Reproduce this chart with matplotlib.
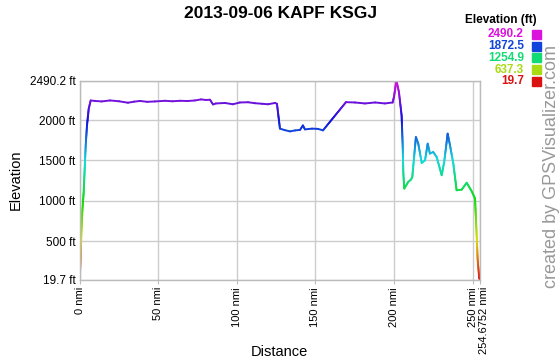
import matplotlib
matplotlib.use('Agg')
import matplotlib.pyplot as plt
import matplotlib.colors as colors
import matplotlib.transforms as mtransforms
import numpy as np
from matplotlib.collections import LineCollection

plt.rcParams['font.family'] = ['Liberation Sans', 'DejaVu Sans']

#---- data ----#
dist_nmi = [0.0, 0.64, 1.02, 1.65, 2.54, 3.18, 3.82, 4.64, 5.73, 7.0,
            9.7, 14.0, 19.3, 25.0, 30.7, 34.5, 38.4, 43.0, 47.9, 54.3,
            59.0, 63.8, 68.5, 73.3, 77.2, 80.3, 82.9, 84.8, 86.7, 92.4,
            97.5, 101.9, 107.1, 111.5, 116.0, 119.8, 124.2, 125.5, 127.4, 130.6,
            133.8, 137.0, 140.2, 142.0, 143.3, 147.8, 151.6, 154.8, 169.4, 175.1,
            181.5, 187.9, 194.2, 199.1, 200.0, 201.5, 203.1, 204.8, 205.5, 205.9,
            206.5, 209.0, 210.8, 211.6, 213.9, 215.4, 217.6, 219.7, 221.4, 222.8,
            224.9, 227.1, 230.3, 231.9, 234.1, 235.6, 237.7, 239.8, 243.0, 246.2,
            249.4, 251.5, 252.6, 253.2, 254.2, 254.6752]
elev_ft = [19.7, 328, 575, 863, 1110, 1399, 1687, 1934, 2140, 2243,
           2237, 2231, 2243, 2233, 2215, 2228, 2237, 2226, 2231, 2239,
           2233, 2239, 2236, 2243, 2256, 2249, 2252, 2194, 2206, 2212,
           2196, 2218, 2221, 2209, 2202, 2196, 2212, 2202, 1894, 1875,
           1860, 1872, 1879, 1934, 1885, 1894, 1891, 1873, 2222, 2218,
           2206, 2218, 2206, 2218, 2293, 2490.2, 2346, 2058, 1675, 1341,
           1152, 1234, 1264, 1296, 1790, 1708, 1469, 1502, 1708, 1585,
           1605, 1543, 1317, 1481, 1832, 1687, 1461, 1131, 1138, 1224,
           1119, 1029, 555, 267, 41, 19.7]

x_ticks = [0, 50, 100, 150, 200, 250, 254.6752]
x_labels = ['0 nmi', '50 nmi', '100 nmi', '150 nmi', '200 nmi', '250 nmi', '254.6752 nmi']
y_ticks = [19.7, 500, 1000, 1500, 2000, 2490.2]
y_labels = ['19.7 ft', '500 ft', '1000 ft', '1500 ft', '2000 ft', '2490.2 ft']
legend_vals = [2490.2, 1872.5, 1254.9, 637.3, 19.7]

emin, emax = 19.7, 2490.2

#---- red -> magenta hue ramp like GPSVisualizer ----#
def elev_color(e):
    f = (e - emin) / (emax - emin)
    return colors.hsv_to_rgb([f * 300.0 / 360.0, 0.92, 0.86])

#---- figure ----#
fig = plt.figure(figsize=(5.6, 3.6), dpi=100)
ax = fig.add_axes([79.7/560, 1 - 280/360, (480 - 79.7)/560, (280 - 80.5)/360])

# split every segment into short pieces so the colour follows the elevation
x = np.array(dist_nmi)
y = np.array(elev_ft)
segs, cols = [], []
for i in range(len(x) - 1):
    n = max(1, int(abs(y[i+1] - y[i]) / 15))
    t = np.linspace(0, 1, n + 1)
    xs = x[i] + (x[i+1] - x[i]) * t
    ys = y[i] + (y[i+1] - y[i]) * t
    for j in range(n):
        segs.append([(xs[j], ys[j]), (xs[j+1], ys[j+1])])
        cols.append(elev_color(0.5*(ys[j] + ys[j+1])))
lc = LineCollection(segs, colors=cols, linewidths=1.4, capstyle='round', joinstyle='round')
ax.add_collection(lc)

ax.set_xlim(0, 254.6752)
ax.set_ylim(emin, emax)
ax.set_xticks(x_ticks)
ax.set_xticklabels(x_labels, rotation=90, fontsize=8)
ax.set_yticks(y_ticks)
ax.set_yticklabels(y_labels, fontsize=8.5)
ax.tick_params(axis='x', length=3, color='#bbbbbb', pad=2)
ax.tick_params(axis='y', length=0, pad=3)
# nudge the last distance label so it sits beside "250 nmi"
lab = ax.get_xticklabels()[-1]
lab.set_transform(lab.get_transform() + mtransforms.ScaledTranslation(3.5/100, 0, fig.dpi_scale_trans))
ax.grid(True, color='#cccccc', lw=1.0)
ax.set_axisbelow(True)
for s in ax.spines.values():
    s.set_color('#bbbbbb')
    s.set_linewidth(1.0)

ax.set_ylabel('Elevation', fontsize=10.5, labelpad=5)
fig.text(279/560, 1 - 352/360, 'Distance', fontsize=10.5, ha='center', va='center')
fig.text(281/560, 1 - 14/360, '2013-09-06 KAPF KSGJ', fontsize=12.5, fontweight='bold',
         ha='center', va='center')

#---- elevation legend ----#
fig.text(537/560, 1 - 20/360, 'Elevation (ft)', fontsize=8.5, fontweight='bold',
         ha='right', va='center')
for i, v in enumerate(legend_vals):
    yy = 1 - (34.3 + 11.8*i)/360
    c = elev_color(v)
    fig.text(524/560, yy, '%.1f' % v, fontsize=8.5, fontweight='bold', color=c,
             ha='right', va='center')
    fig.patches.append(plt.Rectangle((532/560, yy - 4.5/360), 9/560, 9/360,
                                     transform=fig.transFigure, color=c, figure=fig))

fig.text(552/560, 1 - 167/360, 'created by GPSVisualizer.com', fontsize=13,
         color='#999999', rotation=90, ha='center', va='center')

plt.savefig('out.png', dpi=100)
